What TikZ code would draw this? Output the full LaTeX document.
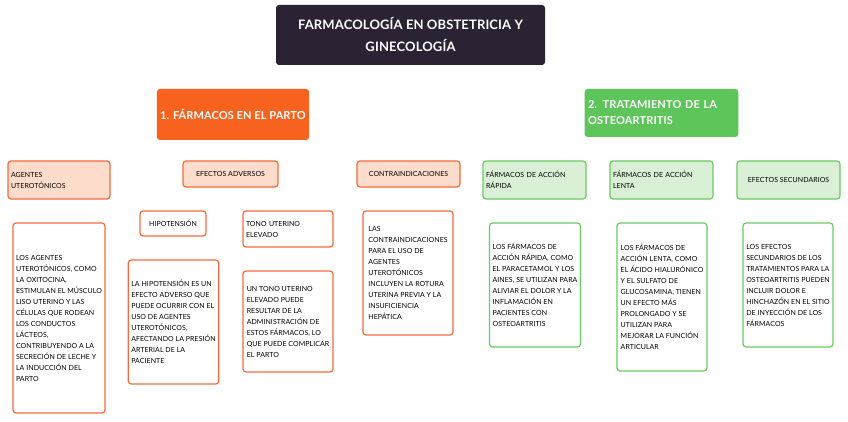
\documentclass[tikz,border=0pt]{standalone}
\usepackage{fontspec}
\setmainfont{Lato}[LetterSpace=1]
\usetikzlibrary{backgrounds}
\definecolor{dark}{HTML}{2B2233}
\definecolor{orng}{HTML}{F7631E}
\definecolor{orngl}{HTML}{FDDCCB}
\definecolor{orngb}{HTML}{F76B3A}
\definecolor{grn}{HTML}{5EC55A}
\definecolor{grnl}{HTML}{D9EFD6}
\definecolor{grnb}{HTML}{6ACB63}
\tikzset{
 bx/.style={rounded corners=3pt, line width=1.2pt, inner sep=3pt, align=left, font=\fontsize{7}{11}\selectfont},
 ob/.style={bx, draw=orngb, fill=orngl},
 ow/.style={bx, draw=orngb, fill=white},
 gb/.style={bx, draw=grnb, fill=grnl},
 gw/.style={bx, draw=grnb, fill=white},
 con/.style={draw=black!25, line width=0.8pt}
}
\begin{document}
\begin{tikzpicture}[x=1pt,y=-1pt]
\useasboundingbox[fill=white] (0,0) rectangle (848,422);
\node[rounded corners=3pt, fill=dark, text=white, align=center, font=\fontsize{13}{22}\selectfont\bfseries, minimum width=269, minimum height=60] (t) at (410.5,35) {FARMACOLOGÍA EN OBSTETRICIA Y\\GINECOLOGÍA};
\node[rounded corners=3pt, fill=orng, text=white, align=left, font=\fontsize{11}{15}\selectfont\bfseries, minimum width=152, minimum height=51] (p) at (233,114.5) {1. FÁRMACOS EN EL PARTO};
\node[rounded corners=3pt, fill=grn, text=white, align=left, text width=147, font=\fontsize{11}{16}\selectfont\bfseries, minimum width=153, minimum height=48] (o) at (661.5,113) {2. TRATAMIENTO DE LA\\OSTEOARTRITIS};
% level 2
\node[ob, text width=96, minimum height=38] (ag) at (59,180) {AGENTES\\UTEROTÓNICOS};
\node[ob, align=center, minimum width=95, minimum height=26] (ef) at (230.5,174) {EFECTOS ADVERSOS};
\node[ob, align=center, minimum width=103, minimum height=26] (co) at (408.5,174) {CONTRAINDICACIONES};
\node[gb, text width=97, minimum height=38] (ra) at (534.5,180) {FÁRMACOS DE ACCIÓN\\RÁPIDA};
\node[gb, text width=97, minimum height=38] (le) at (661.5,180) {FÁRMACOS DE ACCIÓN\\LENTA};
\node[gb, align=center, minimum width=103, minimum height=38] (es) at (788.5,180) {EFECTOS SECUNDARIOS};
% level 3
\node[ow, minimum width=90, minimum height=190] (agt) at (59,318) {LOS AGENTES\\UTEROTÓNICOS, COMO\\LA OXITOCINA,\\ESTIMULAN EL MÚSCULO\\LISO UTERINO Y LAS\\CÉLULAS QUE RODEAN\\LOS CONDUCTOS\\LÁCTEOS,\\CONTRIBUYENDO A LA\\SECRECIÓN DE LECHE Y\\LA INDUCCIÓN DEL\\PARTO};
\node[ow, align=center, minimum width=66, minimum height=25] (hi) at (173,223.5) {HIPOTENSIÓN};
\node[ow, text width=84, minimum height=36] (to) at (288,229) {TONO UTERINO\\ELEVADO};
\node[ow, minimum width=89, minimum height=124] (hit) at (173.5,322) {LA HIPOTENSIÓN ES UN\\EFECTO ADVERSO QUE\\PUEDE OCURRIR CON EL\\USO DE AGENTES\\UTEROTÓNICOS,\\AFECTANDO LA PRESIÓN\\ARTERIAL DE LA\\PACIENTE};
\node[ow, minimum width=90, minimum height=101] (tot) at (288,321.5) {UN TONO UTERINO\\ELEVADO PUEDE\\RESULTAR DE LA\\ADMINISTRACIÓN DE\\ESTOS FÁRMACOS, LO\\QUE PUEDE COMPLICAR\\EL PARTO};
\node[ow, minimum width=90, minimum height=124] (cot) at (408,273) {LAS\\CONTRAINDICACIONES\\PARA EL USO DE\\AGENTES\\UTEROTÓNICOS\\INCLUYEN LA ROTURA\\UTERINA PREVIA Y LA\\INSUFICIENCIA\\HEPÁTICA};
\node[gw, minimum width=90, minimum height=124] (rat) at (535,285) {LOS FÁRMACOS DE\\ACCIÓN RÁPIDA, COMO\\EL PARACETAMOL Y LOS\\AINES, SE UTILIZAN PARA\\ALIVIAR EL DOLOR Y LA\\INFLAMACIÓN EN\\PACIENTES CON\\OSTEOARTRITIS};
\node[gw, minimum width=90, minimum height=148] (let) at (662,297) {LOS FÁRMACOS DE\\ACCIÓN LENTA, COMO\\EL ÁCIDO HIALURÓNICO\\Y EL SULFATO DE\\GLUCOSAMINA, TIENEN\\UN EFECTO MÁS\\PROLONGADO Y SE\\UTILIZAN PARA\\MEJORAR LA FUNCIÓN\\ARTICULAR};
\node[gw, minimum width=90, minimum height=124] (est) at (788,285) {LOS EFECTOS\\SECUNDARIOS DE LOS\\TRATAMIENTOS PARA LA\\OSTEOARTRITIS PUEDEN\\INCLUIR DOLOR E\\HINCHAZÓN EN EL SITIO\\DE INYECCIÓN DE LOS\\FÁRMACOS};
\begin{scope}[on background layer]
\draw[con] (t.center) to[out=180,in=90] (p.north);
\draw[con] (t.center) to[out=0,in=90] (o.north);
\draw[con] (p.center) to[out=180,in=90] (ag.north);
\draw[con] (p.center) -- (ef.north);
\draw[con] (p.center) to[out=0,in=90] (co.north);
\draw[con] (o.center) to[out=180,in=90] (ra.north);
\draw[con] (o.center) -- (le.north);
\draw[con] (o.center) to[out=0,in=90] (es.north);
\draw[con] (ag.center) -- (agt.north);
\draw[con] (ef.center) to[out=200,in=90] (hi.north);
\draw[con] (ef.center) to[out=-20,in=90] (to.north);
\draw[con] (hi.center) -- (hi.center |- hit.north);
\draw[con] (to.center) -- (to.center |- tot.north);
\draw[con] (co.center) -- (cot.north);
\draw[con] (ra.center) -- (rat.north);
\draw[con] (le.center) -- (let.north);
\draw[con] (es.center) -- (est.north);
\end{scope}
\end{tikzpicture}
\end{document}
